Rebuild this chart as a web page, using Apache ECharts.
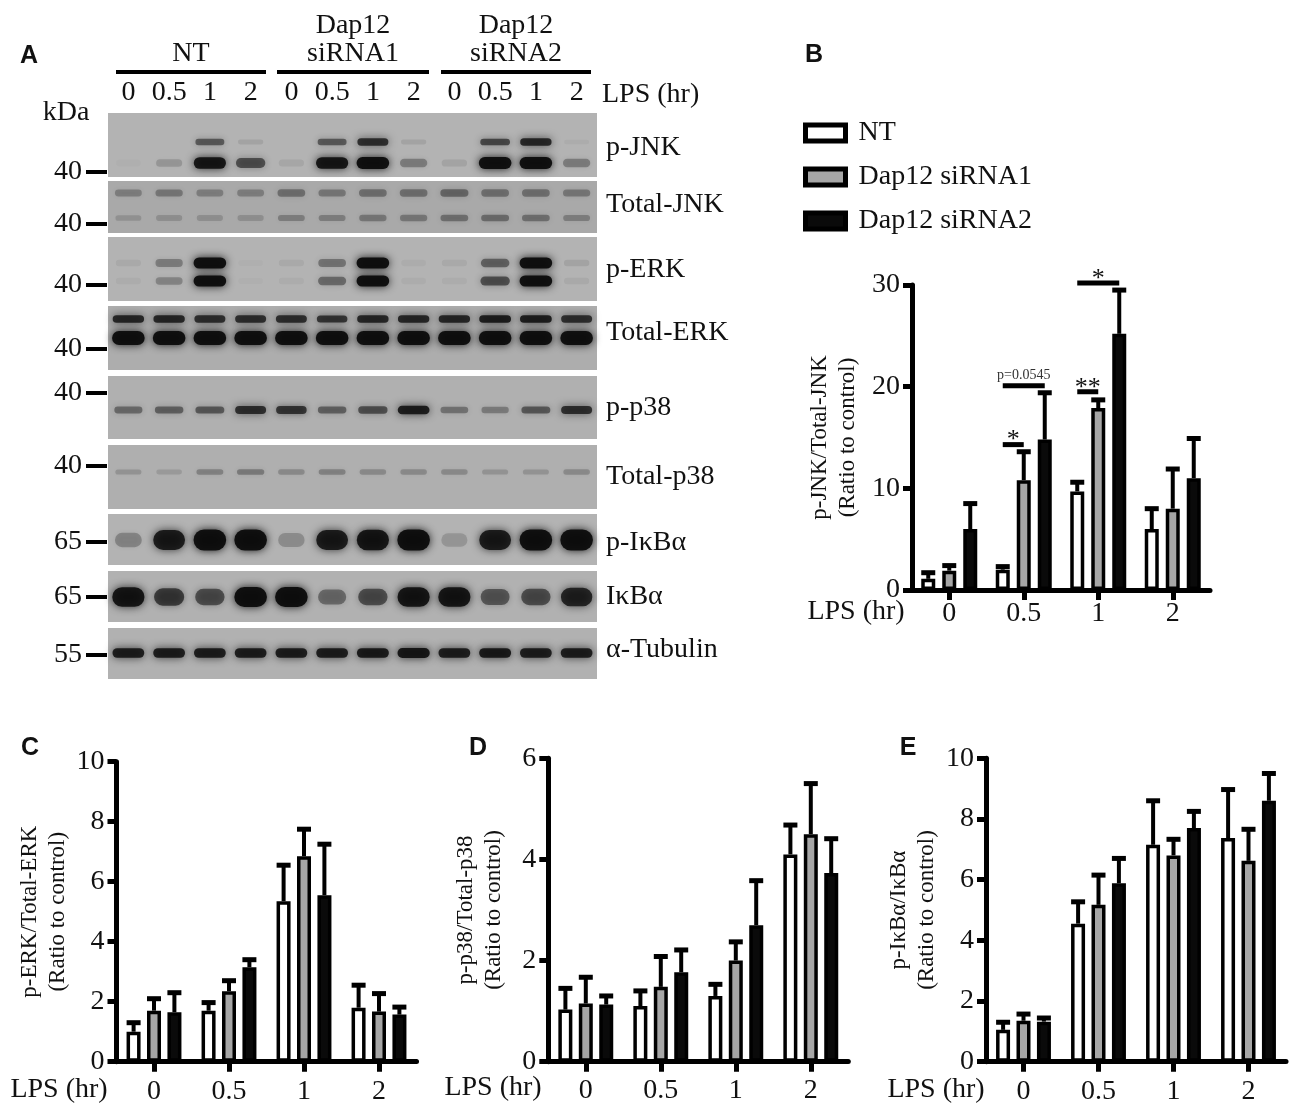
<!DOCTYPE html>
<html><head><meta charset="utf-8">
<script src="https://cdn.jsdelivr.net/npm/echarts@6/dist/echarts.min.js"></script>
<style>html,body{margin:0;padding:0;background:#fff}#c{width:1300px;height:1113px}</style>
</head><body><div id="c"></div>
<script>
// ================= DATA =================
// Panel A: western blot lanes
const laneGroup = ['NT','NT','NT','NT','siRNA1','siRNA1','siRNA1','siRNA1','siRNA2','siRNA2','siRNA2','siRNA2'];
const laneTime  = ['0','0.5','1','2','0','0.5','1','2','0','0.5','1','2'];
const blotNames   = ['p-JNK','Total-JNK','p-ERK','Total-ERK','p-p38','Total-p38','p-IκBα','IκBα','α-Tubulin'];
const blotMarkers = ['40','40','40','40','40','40','65','65','55'];
// band darkness (0 = none, 1 = saturated), one value per lane
const pJNKUpper   = [0, 0.02, 0.55, 0.12, 0, 0.55, 0.8, 0.12, 0, 0.65, 0.85, 0.06];
const pJNKLower   = [0.03, 0.2, 0.95, 0.6, 0.1, 0.95, 1.0, 0.35, 0.12, 1.0, 1.0, 0.35];
const totJNKUpper = [0.3, 0.35, 0.3, 0.3, 0.4, 0.35, 0.4, 0.4, 0.45, 0.4, 0.4, 0.35];
const totJNKLower = [0.18, 0.2, 0.2, 0.2, 0.3, 0.3, 0.35, 0.35, 0.4, 0.42, 0.4, 0.3];
const pERKUpper   = [0.08, 0.35, 1.0, 0.03, 0.08, 0.4, 1.0, 0.05, 0.08, 0.5, 1.0, 0.12];
const pERKLower   = [0.06, 0.3, 1.0, 0.03, 0.06, 0.45, 1.0, 0.05, 0.06, 0.6, 1.0, 0.08];
const totERKUpper = [0.85, 0.85, 0.8, 0.8, 0.8, 0.75, 0.85, 0.85, 0.85, 0.9, 0.9, 0.8];
const totERKLower = [1, 1, 1, 1, 1, 1, 1, 1, 1, 1, 1, 1];
const pP38        = [0.45, 0.5, 0.55, 0.8, 0.75, 0.5, 0.6, 0.9, 0.4, 0.35, 0.55, 0.8];
const totP38      = [0.2, 0.15, 0.3, 0.35, 0.25, 0.3, 0.25, 0.25, 0.25, 0.2, 0.2, 0.25];
const pIkBa       = [0.3, 0.9, 1, 1, 0.25, 0.9, 0.95, 1, 0.2, 0.9, 1, 1];
const IkBa        = [0.95, 0.7, 0.6, 1.0, 1.0, 0.45, 0.6, 0.95, 0.95, 0.55, 0.6, 0.85];
const tubulin     = [0.9, 0.9, 0.9, 0.9, 0.9, 0.9, 0.92, 0.95, 0.9, 0.92, 0.9, 0.9];
const bandRows = [pJNKUpper, pJNKLower, totJNKUpper, totJNKLower, pERKUpper, pERKLower,
                  totERKUpper, totERKLower, pP38, totP38, pIkBa, IkBa, tubulin];

// Panels B-E: bar charts
const timeCats   = ['0', '0.5', '1', '2'];
const groupNames = ['NT', 'Dap12 siRNA1', 'Dap12 siRNA2'];
// B: p-JNK/Total-JNK
const jnkNT  = [1.1, 2.0, 9.7, 6.0];    const jnkNTErr  = [0.6, 0.3, 0.9, 2.0];
const jnkSi1 = [1.9, 10.8, 17.9, 8.0];  const jnkSi1Err = [0.5, 2.8, 0.8, 3.9];
const jnkSi2 = [6.0, 14.8, 25.2, 11.0]; const jnkSi2Err = [2.5, 4.6, 4.3, 3.9];
// C: p-ERK/Total-ERK
const erkNT  = [1.0, 1.7, 5.35, 1.8];   const erkNTErr  = [0.3, 0.27, 1.2, 0.75];
const erkSi1 = [1.7, 2.35, 6.85, 1.67]; const erkSi1Err = [0.4, 0.35, 0.9, 0.6];
const erkSi2 = [1.65, 3.15, 5.55, 1.57];const erkSi2Err = [0.65, 0.25, 1.7, 0.25];
// D: p-p38/Total-p38
const p38NT  = [1.03, 1.1, 1.3, 4.1];   const p38NTErr  = [0.42, 0.3, 0.23, 0.58];
const p38Si1 = [1.15, 1.48, 2.0, 4.5];  const p38Si1Err = [0.52, 0.6, 0.37, 1.0];
const p38Si2 = [1.13, 1.77, 2.7, 3.73]; const p38Si2Err = [0.17, 0.44, 0.88, 0.68];
// E: p-IkBa/IkBa
const ikbNT  = [1.05, 4.55, 7.15, 7.37];const ikbNTErr  = [0.25, 0.72, 1.45, 1.6];
const ikbSi1 = [1.35, 5.17, 6.8, 6.62]; const ikbSi1Err = [0.22, 0.98, 0.53, 1.04];
const ikbSi2 = [1.32, 5.88, 7.7, 8.6];  const ikbSi2Err = [0.12, 0.82, 0.55, 0.9];
// B significance brackets
const sigCat  = [1, 1, 2, 2];
const sigFrom = [0, 0, 0, 0];
const sigTo   = [1, 2, 1, 2];
const sigY    = [14.3, 20.1, 19.5, 30.2];
const sigText = ['*', 'p=0.0545', '**', '*'];

// ================= LAYOUT / STYLE =================
const FONT = '"Liberation Serif", "Times New Roman", serif';
const SANS = '"Liberation Sans", Arial, sans-serif';
const FS = 28;
const STRIPS = [[0,64],[68,120],[124,188],[193,257],[263,326],[332,396],[401,452],[458,509],[515,566]];
const STRIP_SHADE = ['#b3b3b3','#a9a9a9','#b3b3b3','#adadad','#b0b0b0','#afafaf','#b3b3b3','#b1b1b1','#b1b1b1'];
const BAND_POS = [[29,8],[50,12],[80,10],[105,9],[150,11],[168,11],[206,8],[225,14],[297,9],[359,8],[427,21],[484,20],[540,10]];
const LABEL_Y  = [148,205,270,333,408,477,543,597,650];
const MARKER_Y = [172,224,285,349,393,466,542,597,655];
const FILLS = ['#ffffff', '#a6a6a6', '#0a0a0a'];

const laneIds = laneGroup.map((g, i) => g + '|' + laneTime[i]);

const grids = [
  {left:108, top:113, width:489, height:566},
  {left:912, top:285, width:298, height:305},
  {left:116.5, top:761.7, width:300, height:300},
  {left:548.3, top:758.3, width:300, height:303.4},
  {left:986, top:758.3, width:300, height:303.4}
].map(g => Object.assign({outerBoundsMode:'none', containLabel:false}, g));

const panels = [
  {vals:[jnkNT,jnkSi1,jnkSi2], errs:[jnkNTErr,jnkSi1Err,jnkSi2Err], max:30, interval:10,
   name:'p-JNK/Total-JNK\n(Ratio to control)', nameGap:50, gap:'50%', spacing:21, xm:10},
  {vals:[erkNT,erkSi1,erkSi2], errs:[erkNTErr,erkSi1Err,erkSi2Err], max:10, interval:2,
   name:'p-ERK/Total-ERK\n(Ratio to control)', nameGap:45, gap:'46%', spacing:20.4, xm:16},
  {vals:[p38NT,p38Si1,p38Si2], errs:[p38NTErr,p38Si1Err,p38Si2Err], max:6, interval:2,
   name:'p-p38/Total-p38\n(Ratio to control)', nameGap:40, gap:'46%', spacing:20.4, xm:15},
  {vals:[ikbNT,ikbSi1,ikbSi2], errs:[ikbNTErr,ikbSi1Err,ikbSi2Err], max:10, interval:2,
   name:'p-IκBα/IκBα\n(Ratio to control)', nameGap:45, gap:'46%', spacing:20.4, xm:16}
];

const xAxes = [{
  type:'category', gridIndex:0, data:laneIds, position:'top', boundaryGap:true,
  axisLine:{show:false}, axisTick:{show:false}, splitLine:{show:false},
  axisLabel:{interval:0, margin:6, formatter:v => v.split('|')[1],
    fontFamily:FONT, fontSize:FS, lineHeight:28, color:'#111'}
}];
const yAxes = [{type:'value', gridIndex:0, min:0, max:566, inverse:true, show:false}];
const series = [];

// blot strips (background membranes)
series.push({
  type:'custom', xAxisIndex:0, yAxisIndex:0, silent:true, z:1, animation:false,
  data: STRIPS.map((s, i) => [0, i]),
  renderItem: (params, api) => {
    const i = api.value(1);
    const cs = params.coordSys;
    const t = api.coord([0, STRIPS[i][0]])[1];
    const b = api.coord([0, STRIPS[i][1]])[1];
    return {type:'rect', shape:{x:cs.x, y:t, width:cs.width, height:b - t}, style:{fill:STRIP_SHADE[i]}};
  }
});
// blot bands
const bandData = [];
bandRows.forEach((row, r) => row.forEach((v, lane) => bandData.push([lane, r, v])));
series.push({
  type:'custom', xAxisIndex:0, yAxisIndex:0, silent:true, z:2, animation:false,
  data: bandData,
  renderItem: (params, api) => {
    const lane = api.value(0), r = api.value(1), v = api.value(2);
    const a = Math.pow(v, 1.1) * 0.95;
    if (!(a > 0.015)) return null;
    const pos = BAND_POS[r];
    const c = api.coord([lane, pos[0]]);
    const lw = api.size([1, 0])[0];
    const w = lw * (0.6 + 0.2 * v);
    const h = pos[1] * (0.55 + 0.45 * v);
    const col = 'rgba(12,12,12,' + a.toFixed(3) + ')';
    return {type:'rect', shape:{x:c[0]-w/2, y:c[1]-h/2, width:w, height:h, r:h/2},
      style:{fill:col, shadowBlur:4 + 5 * v, shadowColor:col}};
  }
});

panels.forEach((p, k) => {
  const gi = k + 1;
  xAxes.push({
    type:'category', gridIndex:gi, data:timeCats,
    axisLine:{show:true, lineStyle:{color:'#000', width:5}},
    axisTick:{show:true, alignWithLabel:true, length:10, lineStyle:{color:'#000', width:5}},
    axisLabel:{fontFamily:FONT, fontSize:FS, color:'#111', margin:p.xm},
    splitLine:{show:false}
  });
  yAxes.push({
    type:'value', gridIndex:gi, min:0, max:p.max, interval:p.interval,
    axisLine:{show:true, lineStyle:{color:'#000', width:5}},
    axisTick:{show:true, length:9, lineStyle:{color:'#000', width:5}},
    axisLabel:{fontFamily:FONT, fontSize:FS, color:'#111', margin:12},
    splitLine:{show:false},
    name:p.name, nameLocation:'middle', nameRotate:90, nameGap:p.nameGap, nameMoveOverlap:false,
    nameTextStyle:{fontFamily:FONT, fontSize:23, lineHeight:28, color:'#111'}
  });
  p.vals.forEach((vals, s) => {
    series.push({
      type:'bar', name:groupNames[s], xAxisIndex:gi, yAxisIndex:gi, data:vals,
      barWidth:14, barGap:p.gap, z:3, animation:false,
      itemStyle:{color:FILLS[s], borderColor:'#000', borderWidth:3.5}
    });
    const errs = p.errs[s];
    const spacing = p.spacing;
    series.push({
      type:'custom', xAxisIndex:gi, yAxisIndex:gi, z:4, silent:true, animation:false,
      data: vals.map((v, i) => [i, v, errs[i]]),
      renderItem: (params, api) => {
        const i = api.value(0), v = api.value(1), e = api.value(2);
        const a = api.coord([i, v]), b = api.coord([i, v + e]);
        const x = a[0] + (s - 1) * spacing;
        return {type:'group', children:[
          {type:'line', shape:{x1:x, y1:a[1], x2:x, y2:b[1]}, style:{stroke:'#000', lineWidth:4}},
          {type:'line', shape:{x1:x-7, y1:b[1], x2:x+7, y2:b[1]}, style:{stroke:'#000', lineWidth:5}}
        ]};
      }
    });
  });
});

// significance brackets on B
series.push({
  type:'custom', xAxisIndex:1, yAxisIndex:1, z:5, silent:true, animation:false, clip:false,
  data: sigCat.map((c, i) => [c, sigY[i], sigFrom[i], sigTo[i], i]),
  renderItem: (params, api) => {
    const c = api.coord([api.value(0), api.value(1)]);
    const sp = panels[0].spacing;
    const x1 = c[0] + (api.value(2) - 1) * sp, x2 = c[0] + (api.value(3) - 1) * sp;
    const t = sigText[api.value(4)];
    const isP = t.length > 2;
    return {type:'group', children:[
      {type:'line', shape:{x1:x1, y1:c[1], x2:x2, y2:c[1]}, style:{stroke:'#000', lineWidth:5}},
      {type:'text', x:(x1 + x2) / 2, y: isP ? c[1] - 10 : c[1] - 4,
       style:{text:t, fontFamily:FONT, fontSize: isP ? 14 : 26, fill: isP ? '#333' : '#111', align:'center', verticalAlign:'middle'}}
    ]};
  }
});

// ================= TEXT / DECORATION =================
const graphics = [];
function txt(text, x, y, size, opt) {
  graphics.push({type:'text', x:x, y:y, silent:true,
    style:Object.assign({text:text, fontFamily:FONT, fontSize:size, fill:'#111', align:'center', verticalAlign:'middle'}, opt || {})});
}
function ln(x1, y1, x2, y2, w) {
  graphics.push({type:'line', silent:true, shape:{x1:x1, y1:y1, x2:x2, y2:y2}, style:{stroke:'#000', lineWidth:w}});
}
const boldSans = {fontFamily:SANS, fontWeight:'bold'};
txt('A', 29, 56, 25, boldSans);
txt('B', 814, 55, 25, boldSans);
txt('C', 30, 748, 25, boldSans);
txt('D', 478, 748, 25, boldSans);
txt('E', 908, 748, 25, boldSans);
// header of blot
txt('NT', 191, 54, FS);
txt('Dap12', 353, 26, FS); txt('siRNA1', 353, 54, FS);
txt('Dap12', 516, 26, FS); txt('siRNA2', 516, 54, FS);
ln(116, 72, 266, 72, 4); ln(277, 72, 429, 72, 4); ln(441, 72, 591, 72, 4);
txt('LPS (hr)', 602, 95, FS, {align:'left'});
txt('kDa', 66, 113, FS);
blotMarkers.forEach((m, i) => { txt(m, 82, MARKER_Y[i], FS, {align:'right'}); ln(86, MARKER_Y[i], 107, MARKER_Y[i], 4); });
blotNames.forEach((n, i) => txt(n, 606, LABEL_Y[i], FS, {align:'left'}));
// LPS (hr) beside category axes
txt('LPS (hr)', 856, 612, FS);
txt('LPS (hr)', 59, 1090, FS);
txt('LPS (hr)', 493, 1088, FS);
txt('LPS (hr)', 936, 1090, FS);

const chart = echarts.init(document.getElementById('c'), null, {renderer:'canvas'});
chart.setOption({
  backgroundColor:'#ffffff',
  animation:false,
  grid:grids,
  xAxis:xAxes,
  yAxis:yAxes,
  legend:{
    orient:'vertical', left:798, top:114, itemWidth:40, itemHeight:16, itemGap:16,
    icon:'rect', selectedMode:false, data:groupNames,
    itemStyle:{borderColor:'#000', borderWidth:5},
    textStyle:{fontFamily:FONT, fontSize:FS, color:'#111', padding:[0,0,0,8]}
  },
  series:series,
  graphic:graphics
});
</script>
</body></html>
